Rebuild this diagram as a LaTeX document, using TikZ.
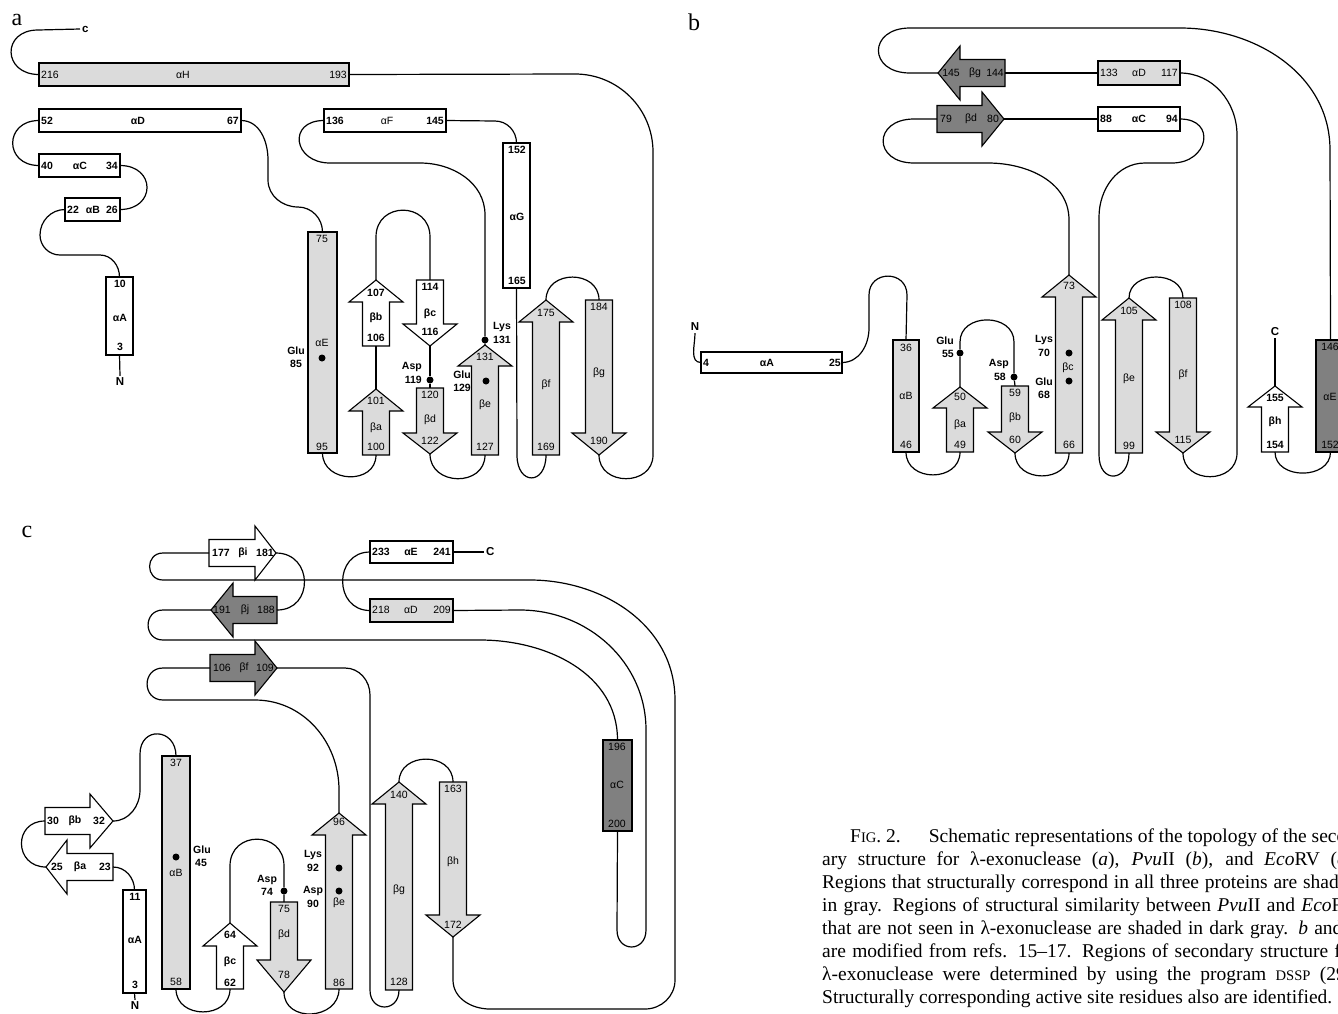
\documentclass[tikz,border=0pt]{standalone}
\usepackage{fontspec}
\setmainfont{Liberation Serif}
\newfontfamily\lsans{Liberation Sans}
\newcommand\fnb{\lsans\bfseries\fontsize{10.5}{10.5}\selectfont}
\newcommand\fnr{\lsans\fontsize{10.5}{10.5}\selectfont}
\newcommand\fnt{\lsans\bfseries\fontsize{11.5}{11.5}\selectfont}
\newcommand\fpan{\rmfamily\fontsize{24}{24}\selectfont}
\newcommand\fcap{\rmfamily\fontsize{19.5}{23}\selectfont}
\newcommand\fsc{\fontsize{14.6}{23}\selectfont}
\newcommand\capline[1]{\makebox[535pt][s]{#1}}
\definecolor{lg}{gray}{0.86}
\definecolor{dg}{gray}{0.5}
\newcounter{lbc}
\newcommand\plab[4]{\stepcounter{lbc}\edef\labname{lab\arabic{lbc}}\node[#1] (\labname) at (#2,#3) {#4};}
% helix box: name, x1, y1, x2, y2, fill
\newcommand\hbx[6]{\node[hx, fill=#6, minimum width={#4-#2}, minimum height={#5-#3}] (#1) at ({(#2+#4)/2},{(#3+#5)/2}) {};}
% vertical strand: name, cx, ytip, yhead, yend, fill
\newcommand\svt[6]{%
  \draw[outl, fill=#6] (#2,#3) -- ({#2+27},#4) -- ({#2+13.5},#4) -- ({#2+13.5},#5) -- ({#2-13.5},#5) -- ({#2-13.5},#4) -- ({#2-27},#4) -- cycle;
  \coordinate (#1-tip) at (#2,#3);
  \coordinate (#1-end) at (#2,#5);}
% horizontal strand: name, cy, xtip, xhead, xend, fill
\newcommand\shz[6]{%
  \draw[outl, fill=#6] (#3,#2) -- (#4,{#2-27}) -- (#4,{#2-13.5}) -- (#5,{#2-13.5}) -- (#5,{#2+13.5}) -- (#4,{#2+13.5}) -- (#4,{#2+27}) -- cycle;
  \coordinate (#1-tip) at (#3,#2);
  \coordinate (#1-end) at (#5,#2);}
\tikzset{
  conn/.style={draw, line width=1.2pt, line join=round},
  outl/.style={line width=1.1pt, line join=miter},
  hx/.style={draw, rectangle, line width=1.1pt, inner sep=0pt, outer sep=0pt},
  nb/.style={font=\fnb, inner sep=0pt},
  nr/.style={font=\fnr, inner sep=0pt},
  term/.style={font=\fnt, inner sep=2pt},
  dot/.style={circle, fill=black, inner sep=0pt, minimum size=7pt},
  panel/.style={font=\fpan, inner sep=0pt},
}
\begin{document}
\begin{tikzpicture}[x=1pt, y=-1pt]
\useasboundingbox (0,0) rectangle (1338,1013);
\fill[white] (0,0) rectangle (1338,1013);
\clip (0,0) rectangle (1338,1013);

% ================= panel a =================
\node[panel] (pa) at (17,20) {a};
\hbx{aH}{39}{63}{349}{86}{lg}
\hbx{aD}{39}{109}{241}{132}{white}
\hbx{aC}{39}{154}{120}{177}{white}
\hbx{aB}{65}{198}{120}{221}{white}
\hbx{aA}{106}{277}{133}{355}{white}
\hbx{aE}{308}{232}{337}{453}{lg}
\hbx{aF}{324}{109}{446}{132}{white}
\hbx{aG}{503}{143}{530}{288}{white}
\svt{aSa}{376}{389}{411}{455}{lg}
\svt{aSb}{376}{280}{302}{346}{white}
\svt{aSc}{430}{346}{324}{280}{white}
\svt{aSd}{430}{454}{433}{388}{lg}
\svt{aSe}{485}{345}{366}{455}{lg}
\svt{aSf}{546}{300}{322}{455}{lg}
\svt{aSg}{599}{455}{433}{300}{lg}
\node[dot] (aGlu85) at (322,358) {};
\node[dot] (aAsp119) at (430,380) {};
\node[dot] (aGlu129) at (486,381) {};
\node[dot] (aLys131) at (485,340) {};
\node[term, anchor=west] (ac) at (80,29) {c};
\node[term] (aN) at (120,382) {N};

\draw[conn] (aH.west) to[out=180,in=180,looseness=2.1] (38,30) -- (ac.west);
\draw[conn] (aH.east) -- (575,74) to[out=0,in=90] (653,152) -- (653,455) to[out=-90,in=-90,looseness=1.5] (aSg-tip);
\draw[conn] (aD.west) to[out=180,in=180,looseness=2.0] (aC.west);
\draw[conn] (aC.east) to[out=0,in=0,looseness=2.1] (aB.east);
\draw[conn] (aB.west) to[out=180,in=90] (40,235) to[out=-90,in=180] (60,255) -- (100,255) to[out=0,in=90] (aA.north);
\draw[conn] (aA.south) -- (aN.north);
\draw[conn] (aD.east) to[out=0,in=90] (268,160) -- (268,180) to[out=-90,in=180] (298,207) to[out=0,in=90] (aE.north);
\draw[conn] (aE.south) to[out=-90,in=-90,looseness=1.45] (aSa-end);
\draw[conn] (aSa-tip) -- (aSb-end);
\draw[conn] (aSb-tip) -- (376,237) to[out=90,in=90,looseness=1.7] (430,237) -- (aSc-end);
\draw[conn] (aSc-tip) -- (aAsp119) -- (aSd-end);
\draw[conn] (aSd-tip) to[out=-90,in=-90,looseness=1.5] (aSe-end);
\draw[conn] (aSe-tip) -- (aLys131) -- (485,215) to[out=90,in=0] (420,163) -- (330,163) to[out=180,in=180,looseness=2.2] (aF.west);
\draw[conn] (aF.east) -- (495,121) to[out=0,in=90] (aG.north);
\draw[conn] (aG.south) -- (517,455) to[out=-90,in=-90,looseness=2.7] (aSf-end);
\draw[conn] (aSf-tip) to[out=90,in=90,looseness=1.48] (aSg-end);

\plab{nr,anchor=west}{41}{75}{216}
\plab{nr}{183}{75}{αH}
\plab{nr,anchor=east}{347}{75}{193}
\plab{nb,anchor=west}{41}{121}{52}
\plab{nb}{138}{121}{αD}
\plab{nb,anchor=east}{239}{121}{67}
\plab{nb,anchor=west}{41}{166}{40}
\plab{nb}{80}{166}{αC}
\plab{nb,anchor=east}{118}{166}{34}
\plab{nb,anchor=west}{67}{210}{22}
\plab{nb}{93}{210}{αB}
\plab{nb,anchor=east}{118}{210}{26}
\plab{nb}{120}{284}{10}
\plab{nb}{120}{318}{αA}
\plab{nb}{120}{347}{3}
\plab{nr}{322}{239}{75}
\plab{nr}{322}{343}{αE}
\plab{nr}{322}{447}{95}
\plab{nb}{296}{351}{Glu}
\plab{nb}{296}{364}{85}
\plab{nb,anchor=west}{326}{121}{136}
\plab{nr}{387}{121}{αF}
\plab{nb,anchor=east}{444}{121}{145}
\plab{nb}{517}{150}{152}
\plab{nb}{517}{217}{αG}
\plab{nb}{517}{281}{165}
\plab{nb}{376}{293}{107}
\plab{nb}{376}{318}{βb}
\plab{nb}{376}{338}{106}
\plab{nr}{376}{401}{101}
\plab{nr}{376}{428}{βa}
\plab{nr}{376}{447}{100}
\plab{nb}{430}{287}{114}
\plab{nb}{430}{314}{βc}
\plab{nb}{430}{332}{116}
\plab{nr}{430}{395}{120}
\plab{nr}{430}{420}{βd}
\plab{nr}{430}{441}{122}
\plab{nb,anchor=east}{422}{367}{Asp}
\plab{nb,anchor=east}{422}{380}{119}
\plab{nr}{485}{357}{131}
\plab{nr}{485}{405}{βe}
\plab{nr}{485}{447}{127}
\plab{nb,anchor=east}{471}{375}{Glu}
\plab{nb,anchor=east}{471}{388}{129}
\plab{nb,anchor=west}{493}{327}{Lys}
\plab{nb,anchor=west}{493}{340}{131}
\plab{nr}{546}{313}{175}
\plab{nr}{546}{385}{βf}
\plab{nr}{546}{447}{169}
\plab{nr}{599}{307}{184}
\plab{nr}{599}{373}{βg}
\plab{nr}{599}{441}{190}

% ================= panel b =================
\node[panel] (pb) at (694,22) {b};
\hbx{bA}{701}{352}{842}{373}{white}
\hbx{bB}{893}{340}{919}{452}{lg}
\hbx{bC}{1098}{107}{1180}{131}{white}
\hbx{bD}{1098}{61}{1180}{85}{lg}
\hbx{bE}{1316}{340}{1345}{452}{dg}
\svt{bSa}{960}{387}{408}{452}{lg}
\svt{bSb}{1015}{453}{432}{386}{lg}
\svt{bSc}{1069}{275}{297}{453}{lg}
\shz{bSd}{119}{1004}{982}{937}{dg}
\svt{bSe}{1129}{298}{320}{453}{lg}
\svt{bSf}{1183}{453}{432}{298}{lg}
\shz{bSg}{73}{938}{960}{1005}{dg}
\svt{bSh}{1275}{386}{407}{452}{white}
\node[dot] (bGlu55) at (960,353) {};
\node[dot] (bAsp58) at (1014,377) {};
\node[dot] (bLys70) at (1069,353) {};
\node[dot] (bGlu68) at (1069,381) {};
\node[term] (bN) at (695,327) {N};
\node[term] (bC2) at (1275,332) {C};

\draw[conn] (bN.south) to[out=-90,in=180] (bA.west);
\draw[conn] (bA.east) to[out=0,in=-90] (869,328) -- (869,295) to[out=90,in=90,looseness=1.7] (907,295) -- (bB.north);
\draw[conn] (bB.south) to[out=-90,in=-90,looseness=1.45] (bSa-end);
\draw[conn] (bSa-tip) -- (bGlu55) -- (960,342) to[out=90,in=90,looseness=1.4] (1014,342) -- (bAsp58) -- (bSb-end);
\draw[conn] (bSb-tip) to[out=-90,in=-90,looseness=1.45] (bSc-end);
\draw[conn] (bSc-tip) -- (1069,220) to[out=90,in=0] (988,163) -- (914,163) to[out=180,in=180,looseness=2.4] (914,119) -- (bSd-end);
\draw[conn] (bSd-tip) -- (bC.west);
\draw[conn] (bC.east) to[out=0,in=0,looseness=2.1] (1172,163) -- (1145,163) to[out=180,in=90] (1099,217) -- (1099,455) to[out=-90,in=-90,looseness=2.5] (bSe-end);
\draw[conn] (bSe-tip) to[out=90,in=90,looseness=1.33] (bSf-end);
\draw[conn] (bSf-tip) to[out=-90,in=-90,looseness=1.5] (1237,453) -- (1237,135) to[out=90,in=0] (bD.east);
\draw[conn] (bD.west) -- (bSg-end);
\draw[conn] (bSg-tip) -- (910,73) to[out=180,in=180,looseness=2.4] (910,28) -- (1180,28) to[out=0,in=90] (1330,150) -- (bE.north);
\draw[conn] (bE.south) to[out=-90,in=-90,looseness=1.3] (bSh-end);
\draw[conn] (bSh-tip) -- (bC2.south);

\plab{nb,anchor=west}{703}{363}{4}
\plab{nb}{767}{363}{αA}
\plab{nb,anchor=east}{841}{363}{25}
\plab{nr}{906}{348}{36}
\plab{nr}{906}{396}{αB}
\plab{nr}{906}{445}{46}
\plab{nr}{960}{397}{50}
\plab{nr}{960}{425}{βa}
\plab{nr}{960}{445}{49}
\plab{nb,anchor=east}{954}{341}{Glu}
\plab{nb,anchor=east}{954}{354}{55}
\plab{nb,anchor=east}{1009}{364}{Asp}
\plab{nb,anchor=east}{1006}{377}{58}
\plab{nr}{1015}{393}{59}
\plab{nr}{1015}{418}{βb}
\plab{nr}{1015}{440}{60}
\plab{nr}{1069}{286}{73}
\plab{nr}{1068}{368}{βc}
\plab{nr}{1069}{445}{66}
\plab{nb}{1044}{340}{Lys}
\plab{nb}{1044}{353}{70}
\plab{nb}{1044}{382}{Glu}
\plab{nb}{1044}{395}{68}
\plab{nr}{1129}{311}{105}
\plab{nr}{1129}{379}{βe}
\plab{nr}{1129}{446}{99}
\plab{nr}{1183}{305}{108}
\plab{nr}{1183}{375}{βf}
\plab{nr}{1183}{440}{115}
\plab{nb}{1275}{398}{155}
\plab{nb}{1275}{422}{βh}
\plab{nb}{1275}{445}{154}
\plab{nr}{1330}{347}{146}
\plab{nr}{1330}{397}{αE}
\plab{nr}{1330}{445}{152}
\plab{nr,anchor=west}{1100}{73}{133}
\plab{nr}{1139}{73}{αD}
\plab{nr,anchor=east}{1178}{73}{117}
\plab{nb,anchor=west}{1100}{119}{88}
\plab{nb}{1139}{119}{αC}
\plab{nb,anchor=east}{1178}{119}{94}
\plab{nr}{946}{119}{79}
\plab{nr}{971}{119}{βd}
\plab{nr}{993}{119}{80}
\plab{nr}{951}{73}{145}
\plab{nr}{975}{73}{βg}
\plab{nr}{995}{73}{144}

% ================= panel c =================
\node[panel] (pc) at (27,532) {c};
\shz{cSi}{553}{276}{255}{209}{white}
\shz{cSj}{610}{211}{233}{277}{dg}
\shz{cSf}{668}{277}{255}{210}{dg}
\hbx{cE}{370}{541}{453}{563}{white}
\hbx{cD}{370}{599}{453}{622}{lg}
\hbx{cC}{603}{740}{632}{831}{dg}
\shz{cSb}{821}{113}{90}{45}{white}
\shz{cSa}{867}{46}{67}{113}{white}
\hbx{cA}{123}{890}{146}{993}{white}
\hbx{cB}{162}{756}{190}{989}{lg}
\svt{cSc}{230}{923}{946}{989}{white}
\svt{cSd}{284}{992}{960}{902}{lg}
\svt{cSe}{339}{813}{835}{989}{lg}
\svt{cSg}{399}{782}{804}{990}{lg}
\svt{cSh}{453}{937}{915}{782}{lg}
\node[dot] (cGlu45) at (176,857) {};
\node[dot] (cAsp74) at (284,891) {};
\node[dot] (cLys92) at (339,868) {};
\node[dot] (cAsp90) at (339,891) {};
\node[term, anchor=west] (cCt) at (484,552) {C};
\node[term] (cN) at (135,1006) {N};

\draw[conn] (cSi-tip) to[out=0,in=0,looseness=1.67] (cSj-end);
\draw[conn] (cSi-end) -- (163,553) to[out=180,in=180,looseness=1.7] (163,580) -- (530,580) to[out=0,in=90] (675,700) -- (675,980) to[out=-90,in=0] (645,1009) -- (490,1009) to[out=180,in=-90] (453,980) -- (cSh-tip);
\draw[conn] (cSj-tip) -- (163,610) to[out=180,in=180,looseness=1.7] (163,640) -- (480,640) to[out=0,in=90] (cC.north);
\draw[conn] (cC.south) -- (617,930) to[out=-90,in=-90,looseness=2.0] (646,930) -- (646,730) to[out=90,in=0] (520,610) -- (cD.east);
\draw[conn] (cD.west) to[out=180,in=180,looseness=1.6] (cE.west);
\draw[conn] (cE.east) -- (cCt.west);
\draw[conn] (cSf-tip) -- (345,668) to[out=0,in=90] (370,695) -- (370,990) to[out=-90,in=-90,looseness=2.0] (cSg-end);
\draw[conn] (cSf-end) -- (163,668) to[out=180,in=180,looseness=1.7] (163,700) -- (255,700) to[out=0,in=90] (339,790) -- (cSe-tip);
\draw[conn] (cSg-tip) to[out=90,in=90,looseness=1.45] (cSh-end);
\draw[conn] (cSe-end) to[out=-90,in=-90,looseness=1.45] (cSd-tip);
\draw[conn] (cSd-end) -- (cAsp74) -- (284,866) to[out=90,in=90,looseness=1.7] (230,866) -- (cSc-tip);
\draw[conn] (cSc-end) to[out=-90,in=-90,looseness=1.45] (cB.south);
\draw[conn] (cSb-tip) to[out=0,in=-90] (140,790) -- (140,754) to[out=90,in=90,looseness=2.0] (cB.north);
\draw[conn] (cSb-end) to[out=180,in=180,looseness=1.78] (cSa-tip);
\draw[conn] (cSa-end) to[out=0,in=90] (cA.north);
\draw[conn] (cA.south) -- (cN.north);

\plab{nb}{221}{553}{177}
\plab{nb}{243}{553}{βi}
\plab{nb}{265}{553}{181}
\plab{nr}{222}{610}{191}
\plab{nr}{245}{610}{βj}
\plab{nr}{266}{610}{188}
\plab{nr}{222}{668}{106}
\plab{nr}{244}{668}{βf}
\plab{nr}{265}{668}{109}
\plab{nb,anchor=west}{372}{552}{233}
\plab{nb}{411}{552}{αE}
\plab{nb,anchor=east}{451}{552}{241}
\plab{nr,anchor=west}{372}{610}{218}
\plab{nr}{411}{610}{αD}
\plab{nr,anchor=east}{451}{610}{209}
\plab{nr}{617}{747}{196}
\plab{nr}{617}{785}{αC}
\plab{nr}{617}{824}{200}
\plab{nb,anchor=west}{47}{821}{30}
\plab{nb}{75}{821}{βb}
\plab{nb}{99}{821}{32}
\plab{nb}{57}{867}{25}
\plab{nb}{80}{867}{βa}
\plab{nb,anchor=east}{111}{867}{23}
\plab{nb}{135}{897}{11}
\plab{nb}{135}{940}{αA}
\plab{nb}{135}{985}{3}
\plab{nr}{176}{763}{37}
\plab{nr}{176}{873}{αB}
\plab{nr}{176}{982}{58}
\plab{nb,anchor=west}{193}{850}{Glu}
\plab{nb,anchor=west}{195}{863}{45}
\plab{nb}{230}{935}{64}
\plab{nb}{230}{962}{βc}
\plab{nb}{230}{983}{62}
\plab{nr}{284}{909}{75}
\plab{nr}{284}{935}{βd}
\plab{nr}{284}{975}{78}
\plab{nb}{267}{880}{Asp}
\plab{nb}{267}{892}{74}
\plab{nr}{339}{822}{96}
\plab{nr}{339}{903}{βe}
\plab{nr}{339}{983}{86}
\plab{nb}{313}{855}{Lys}
\plab{nb}{313}{868}{92}
\plab{nb}{313}{891}{Asp}
\plab{nb}{313}{904}{90}
\plab{nr}{399}{795}{140}
\plab{nr}{399}{890}{βg}
\plab{nr}{399}{982}{128}
\plab{nr}{453}{789}{163}
\plab{nr}{453}{862}{βh}
\plab{nr}{453}{925}{172}

% ================= caption =================
\node[anchor=north west, inner sep=0pt, align=left, font=\fcap] (cap) at (822,829)
{\hspace*{28pt}F{\fsc IG}. 2.\hspace{28pt}Schematic representations of the topology of the second-\\
\capline{ary structure for λ-exonuclease (\textit{a}), \textit{Pvu}II (\textit{b}), and \textit{Eco}RV (\textit{c}).}\\
\capline{Regions that structurally correspond in all three proteins are shaded}\\
\capline{in gray. Regions of structural similarity between \textit{Pvu}II and \textit{Eco}RV}\\
\capline{that are not seen in λ-exonuclease are shaded in dark gray. \textit{b} and \textit{c}}\\
\capline{are modified from refs. 15–17. Regions of secondary structure for}\\
\capline{λ-exonuclease were determined by using the program {\fsc DSSP} (29).}\\
Structurally corresponding active site residues also are identified.};
\end{tikzpicture}
\end{document}
